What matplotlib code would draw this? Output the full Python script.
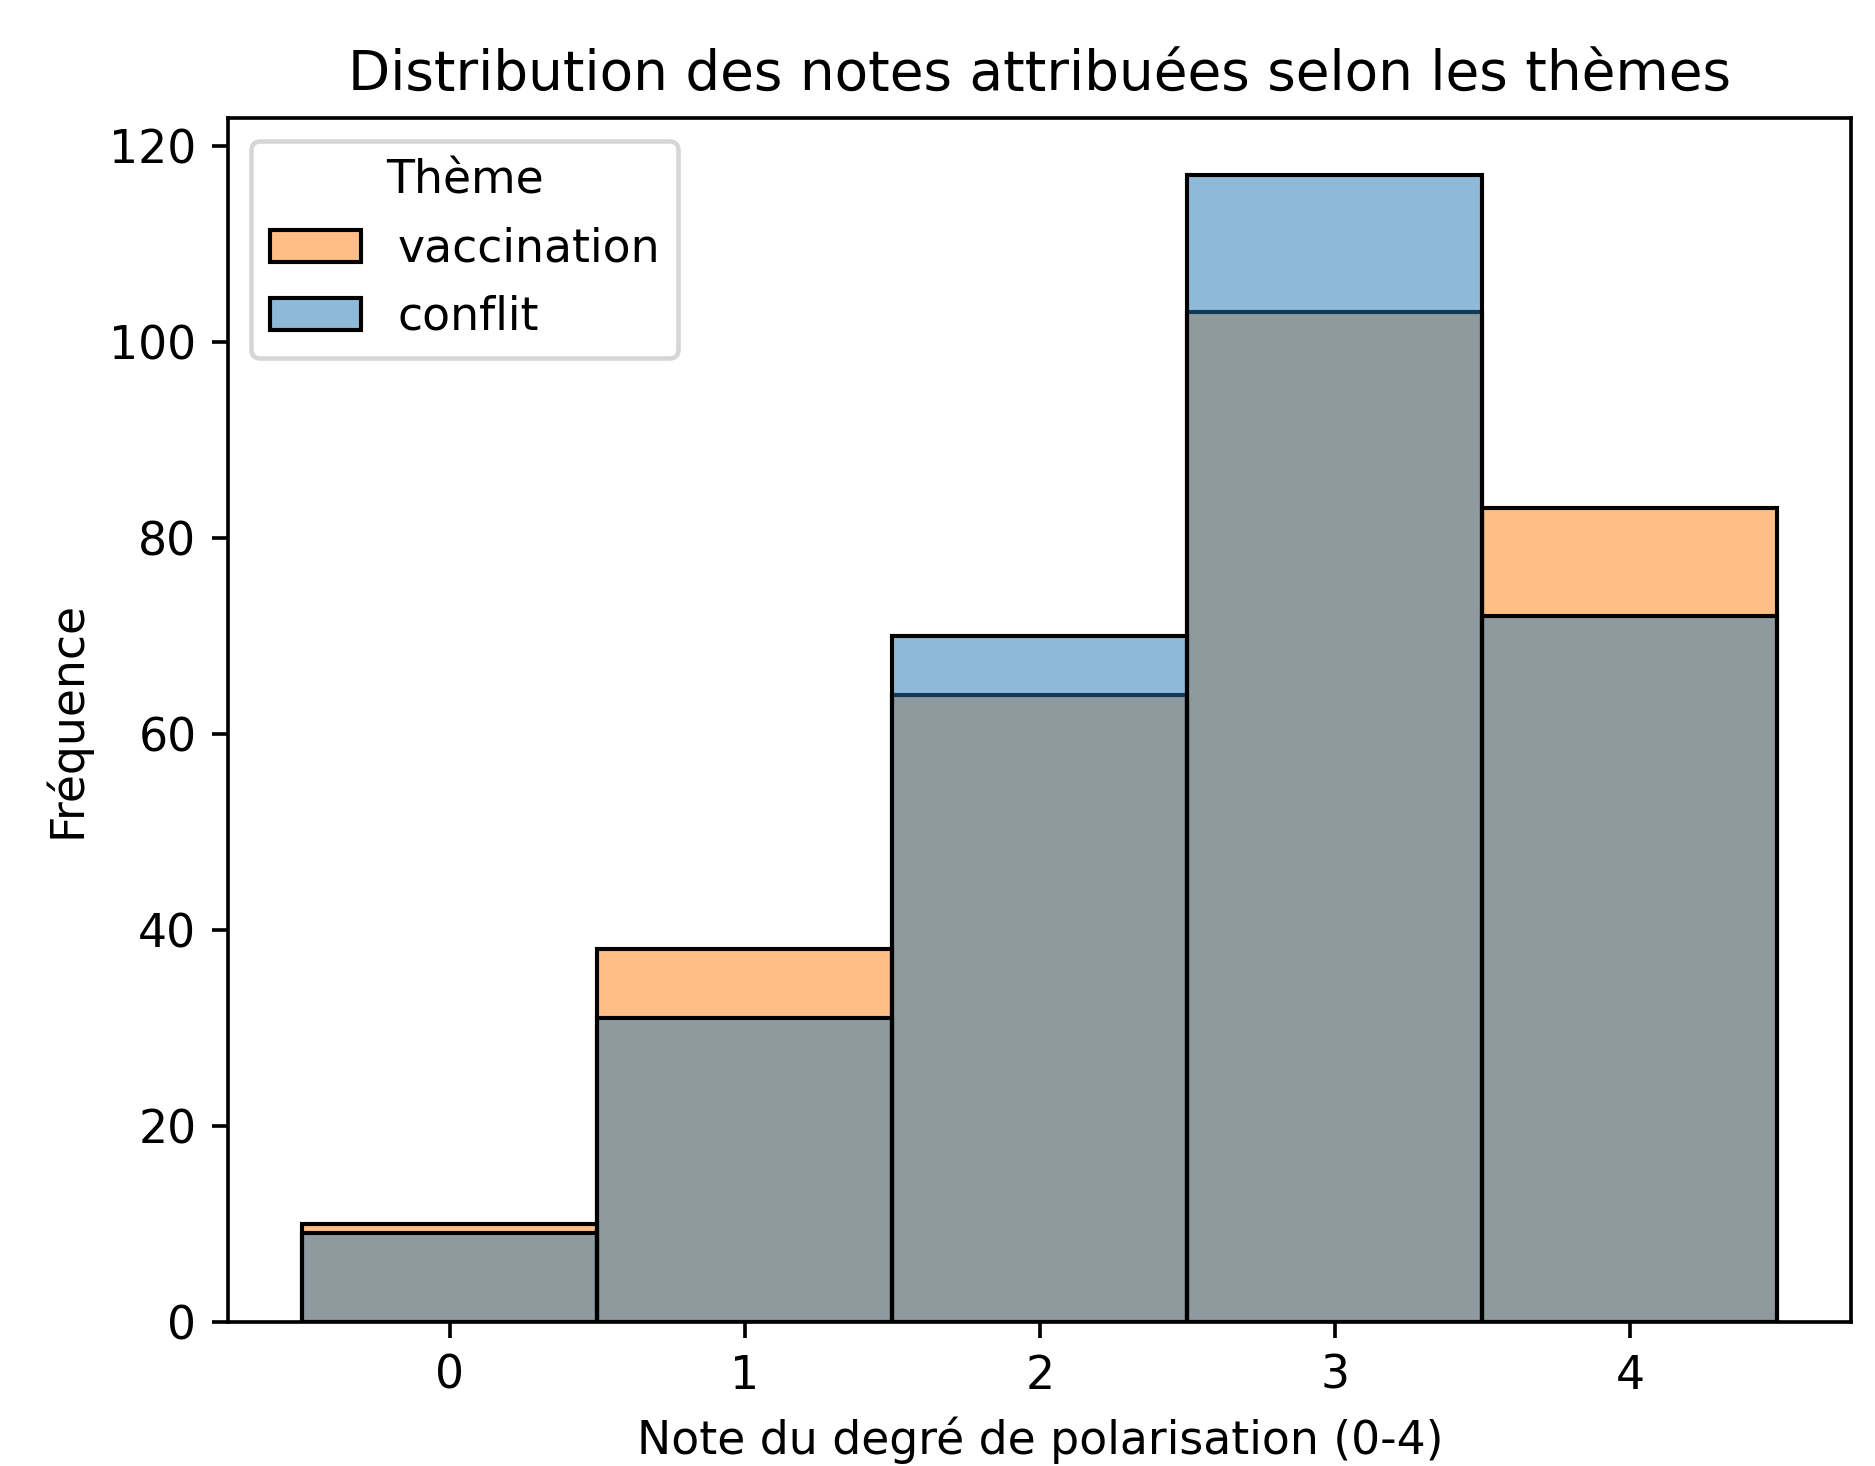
import matplotlib
matplotlib.use('Agg')
import matplotlib.pyplot as plt
from matplotlib.patches import Patch

# notes 0-4 et frequences
notes = [0, 1, 2, 3, 4]
vaccination = [10, 38, 64, 103, 83]
conflit = [9, 31, 70, 117, 72]
themes = ['vaccination', 'conflit']

fig = plt.figure(figsize=(1875 / 329, 1466 / 329), dpi=329)
ax = fig.add_axes([0.1218, 0.0985, 0.8655, 0.8211])

# orange dessous, bleu par dessus (alpha 0.5)
ax.bar(notes, vaccination, width=1.0, color='#ff7f0e', alpha=0.5, edgecolor='none')
ax.bar(notes, vaccination, width=1.0, fill=False, edgecolor='black', linewidth=0.9)
ax.bar(notes, conflit, width=1.0, color='#1f77b4', alpha=0.5, edgecolor='none')
ax.bar(notes, conflit, width=1.0, fill=False, edgecolor='black', linewidth=0.9)

ax.set_xlim(-0.75, 4.75)
ax.set_ylim(0, max(max(vaccination), max(conflit)) * 1.05)
ax.set_xticks(notes)

ax.set_title("Distribution des notes attribuées selon les thèmes", fontsize=12)
ax.set_xlabel("Note du degré de polarisation (0-4)")
ax.set_ylabel("Fréquence")

handles = [Patch(facecolor=(1.0, 0.498, 0.055, 0.5), edgecolor='black', linewidth=0.9),
           Patch(facecolor=(0.122, 0.467, 0.706, 0.5), edgecolor='black', linewidth=0.9)]
ax.legend(handles, themes, title='Thème', loc='upper left')

fig.savefig('out.png', dpi=329)
